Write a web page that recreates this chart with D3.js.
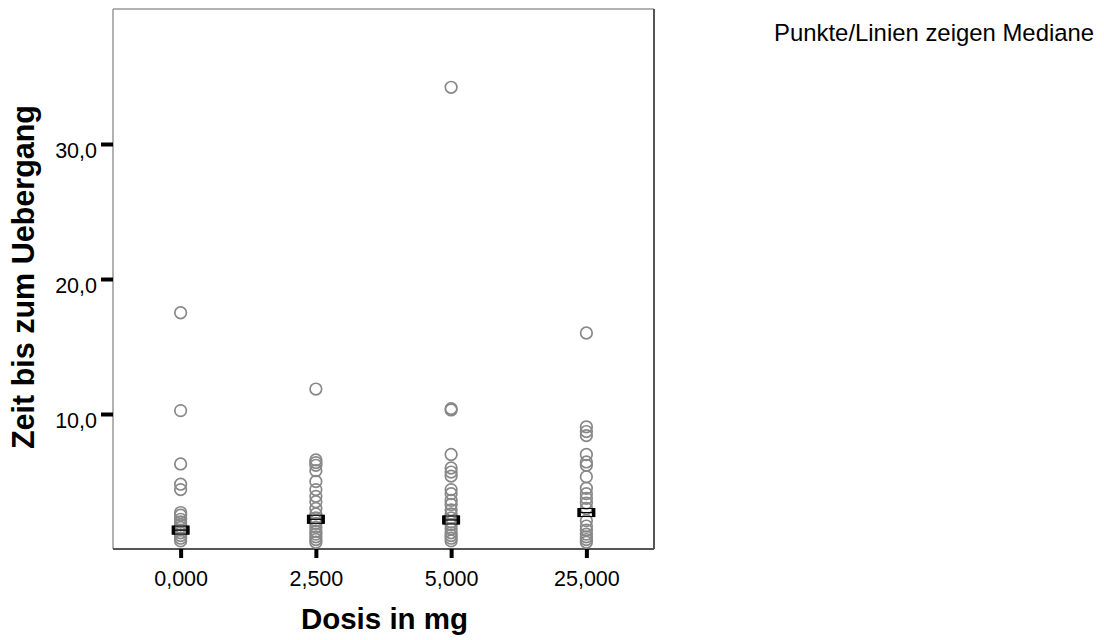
<!DOCTYPE html>
<html>
<head>
<meta charset="utf-8">
<script src="https://cdn.jsdelivr.net/npm/d3@7"></script>
<style>
  html, body { margin: 0; padding: 0; background: #fff; }
  svg { display: block; font-family: "Liberation Sans", Arial, sans-serif; }
</style>
</head>
<body>
<svg id="chart" width="1104" height="640"></svg>
<script>
// ---- Data ----
const categories = ["0,000", "2,500", "5,000", "25,000"];
const dose0    = [17.5, 10.25, 6.3, 4.8, 4.4, 2.7, 2.5, 2.2, 2.0, 1.8, 1.6, 1.4, 1.2, 1.0, 0.8, 0.6];
const dose2500 = [11.85, 6.6, 6.4, 6.2, 5.8, 5.0, 4.4, 3.9, 3.5, 3.0, 2.6, 2.3, 2.1, 1.9, 1.6, 1.3, 1.1, 0.9, 0.7, 0.5];
const dose5000 = [34.2, 10.4, 10.3, 7.0, 6.0, 5.7, 5.4, 4.4, 4.1, 3.6, 3.3, 2.9, 2.6, 2.3, 2.0, 1.8, 1.5, 1.2, 1.0, 0.8, 0.6];
const dose25000 = [16.0, 9.05, 8.7, 8.4, 7.0, 6.45, 6.2, 5.35, 4.5, 4.1, 3.75, 3.4, 3.0, 2.1, 1.7, 1.4, 1.1, 0.9, 0.7, 0.5];
const medians = [1.4, 2.2, 2.15, 2.7];
const yTicks = [10, 20, 30];
const yTickLabels = ["10,0", "20,0", "30,0"];
const xTitle = "Dosis in mg";
const yTitle = "Zeit bis zum Uebergang";
const legendText = "Punkte/Linien zeigen Mediane";

const groups = [dose0, dose2500, dose5000, dose25000];

// ---- Layout ----
const svg = d3.select("#chart");
const L = 113, R = 654, T = 9, B = 549;

const x = d3.scalePoint().domain(categories).range([L, R]).padding(0.5);
const y = d3.scaleLinear().domain([0, 40]).range([B, T]);

// frame
svg.append("line").attr("x1", L).attr("x2", R).attr("y1", T).attr("y2", T)
  .attr("stroke", "#999").attr("stroke-width", 1.5);
svg.append("line").attr("x1", L).attr("x2", L).attr("y1", T).attr("y2", B)
  .attr("stroke", "#999").attr("stroke-width", 1.5);
svg.append("line").attr("x1", R).attr("x2", R).attr("y1", T).attr("y2", B)
  .attr("stroke", "#555").attr("stroke-width", 2);
svg.append("line").attr("x1", L).attr("x2", R).attr("y1", B).attr("y2", B)
  .attr("stroke", "#555").attr("stroke-width", 2);

// y axis
const yAxis = d3.axisLeft(y).tickValues(yTicks)
  .tickFormat((d, i) => yTickLabels[i]).tickSize(12).tickPadding(4);
const gy = svg.append("g").attr("transform", `translate(${L},0)`).call(yAxis);
gy.select(".domain").remove();
gy.selectAll(".tick line").attr("stroke", "#000").attr("stroke-width", 4);
gy.selectAll(".tick text").attr("font-size", 21.5).attr("fill", "#000")
  .attr("dy", "0.62em").attr("x", -16)
  .attr("font-family", "'Liberation Sans', Arial, sans-serif");

// x axis
const xAxis = d3.axisBottom(x).tickSize(9).tickPadding(6);
const gx = svg.append("g").attr("transform", `translate(0,${B})`).call(xAxis);
gx.select(".domain").remove();
gx.selectAll(".tick line").attr("stroke", "#000").attr("stroke-width", 4);
gx.selectAll(".tick text").attr("font-size", 21.5).attr("fill", "#000")
  .attr("y", 37).attr("dy", 0)
  .attr("font-family", "'Liberation Sans', Arial, sans-serif");

// points
const pts = [];
groups.forEach((vals, i) => vals.forEach(v => pts.push({ c: categories[i], v })));
svg.append("g").selectAll("circle").data(pts).join("circle")
  .attr("cx", d => x(d.c)).attr("cy", d => y(d.v)).attr("r", 5.8)
  .attr("fill", "none").attr("stroke", "#888").attr("stroke-width", 1.7);

// median markers
const mg = svg.append("g").selectAll("g").data(medians).join("g")
  .attr("transform", (d, i) => `translate(${x(categories[i])},${y(d)})`);
mg.append("rect").attr("x", -8).attr("y", -4).attr("width", 16).attr("height", 8)
  .attr("fill", "none").attr("stroke", "#000").attr("stroke-width", 1);
mg.append("rect").attr("x", -9).attr("y", -4.5).attr("width", 3.5).attr("height", 9).attr("fill", "#000");
mg.append("rect").attr("x", 5.5).attr("y", -4.5).attr("width", 3.5).attr("height", 9).attr("fill", "#000");
mg.append("line").attr("x1", -6).attr("x2", 6).attr("y1", 0).attr("y2", 0)
  .attr("stroke", "#000").attr("stroke-width", 1.2);

// titles
svg.append("text").attr("x", (L + R) / 2 + 1).attr("y", 629)
  .attr("text-anchor", "middle").attr("font-size", 29.5).attr("font-weight", "bold")
  .attr("fill", "#000").text(xTitle);
svg.append("text").attr("transform", `translate(34,${(T + B) / 2 - 2}) rotate(-90)`)
  .attr("text-anchor", "middle").attr("font-size", 30.5).attr("font-weight", "bold")
  .attr("fill", "#000").text(yTitle);

// legend note
svg.append("text").attr("x", 774).attr("y", 41).attr("font-size", 23.9)
  .attr("fill", "#000").text(legendText);
</script>
</body>
</html>
